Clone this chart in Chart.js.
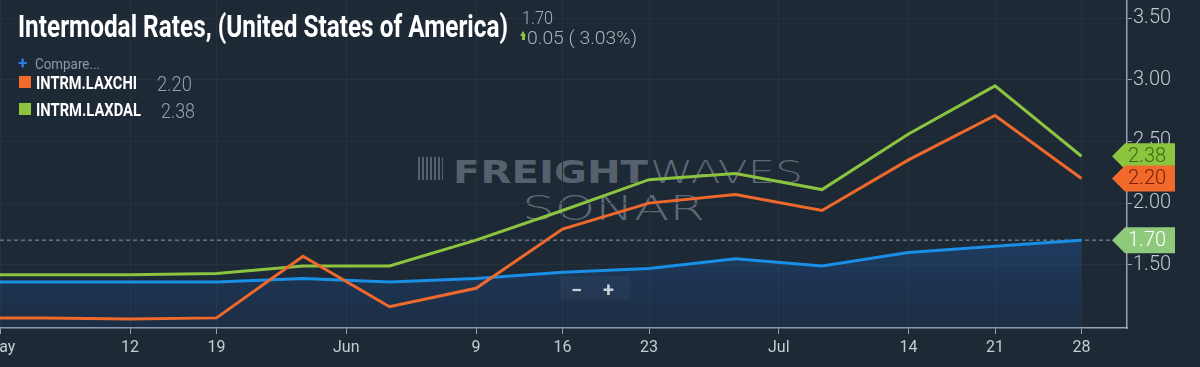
<!DOCTYPE html>
<html>
<head>
<meta charset="utf-8">
<script src="https://cdn.jsdelivr.net/npm/chart.js@4.4.1/dist/chart.umd.min.js"></script>
<style>
html, body { margin: 0; padding: 0; background: #1e2936; width: 1200px; height: 367px; overflow: hidden; font-family: Roboto, sans-serif; }
#wrap { position: absolute; left: -60px; top: -20px; width: 1260px; height: 387px; z-index: 1; }
.ov { position: absolute; white-space: nowrap; line-height: 1; transform-origin: 0 0; display: inline-block; }
.top { z-index: 2; }
.sq { position: absolute; width: 12px; height: 12px; z-index: 2; }
.wm { z-index: 0; }
</style>
</head>
<body>
<!-- watermark, behind the canvas -->
<div class="wm" style="position:absolute;left:418px;top:157px;width:25px;height:23px;background:repeating-linear-gradient(90deg,#55606c 0 2px,transparent 2px 4px);"></div>
<div class="ov wm" data-w="195" style="left:453px;top:153px;font:bold 32px 'DejaVu Sans';color:#56616d;">FREIGHT</div>
<div class="ov wm" data-w="153" style="left:650px;top:153px;font:200 32px 'DejaVu Sans';color:#5d6874;">WAVES</div>
<div class="ov wm" data-w="183" style="left:522px;top:189px;font:200 33px 'DejaVu Sans';color:#5d6874;">SONAR</div>

<div id="wrap"><canvas id="chart" width="1260" height="387"></canvas></div>

<!-- header -->
<div class="ov top" data-w="490" style="left:18px;top:8px;font:700 31px Roboto;color:#ffffff;">Intermodal Rates, (United States of America)</div>
<div class="ov top" data-w="31" style="left:522px;top:7px;font:300 18px Roboto;color:#a8b1bc;">1.70</div>
<div class="top" style="position:absolute;left:520px;top:31px;width:0;height:0;border-left:3.5px solid transparent;border-right:3.5px solid transparent;border-bottom:5px solid #8cc43f;"></div>
<div class="top" style="position:absolute;left:522px;top:35px;width:3px;height:5px;background:#8cc43f;"></div>
<div class="ov top" data-w="110" style="left:527px;top:27px;font:300 18px Roboto;color:#a8b1bc;">0.05 ( 3.03%)</div>

<!-- compare + legend -->
<div class="ov top" style="left:18px;top:53px;font:700 17px Roboto;color:#2b7de9;">+</div>
<div class="ov top" data-w="65" style="left:35px;top:56px;font:400 14px Roboto;color:#8e98a4;">Compare...</div>
<div class="sq" style="left:19px;top:76px;background:#f26a2b;"></div>
<div class="ov top" data-w="101" style="left:36px;top:72px;font:700 18px Roboto;color:#ffffff;">INTRM.LAXCHI</div>
<div class="ov top" data-w="35" style="left:157px;top:72px;font:300 20px Roboto;color:#96a0ac;">2.20</div>
<div class="sq" style="left:19px;top:103px;background:#8cc43f;"></div>
<div class="ov top" data-w="105" style="left:36px;top:99px;font:700 18px Roboto;color:#ffffff;">INTRM.LAXDAL</div>
<div class="ov top" data-w="34" style="left:161px;top:99px;font:300 20px Roboto;color:#96a0ac;">2.38</div>

<!-- zoom buttons -->
<div class="top" style="position:absolute;left:560px;top:276px;width:70px;height:24px;background:rgba(255,255,255,0.03);"></div>
<div class="top" style="position:absolute;left:595px;top:280px;width:1px;height:16px;background:#2c3845;"></div>
<div class="ov top" style="left:571px;top:278px;font:700 20px Roboto;color:#c7ced6;">−</div>
<div class="ov top" style="left:603px;top:278px;font:700 20px Roboto;color:#c7ced6;">+</div>

<script>
// weekly points, Apr 28 .. Jul 28
var weeks = ['Apr 28', 'May 5', 'May 12', 'May 19', 'May 26', 'Jun 2', 'Jun 9', 'Jun 16', 'Jun 23', 'Jun 30', 'Jul 7', 'Jul 14', 'Jul 21', 'Jul 28'];
var intermodal = [1.36, 1.36, 1.36, 1.36, 1.39, 1.36, 1.39, 1.44, 1.47, 1.55, 1.49, 1.60, 1.65, 1.70];
var laxdal = [1.42, 1.42, 1.42, 1.43, 1.49, 1.49, 1.70, 1.94, 2.19, 2.24, 2.11, 2.56, 2.95, 2.38];
var laxchi = [1.07, 1.07, 1.06, 1.07, 1.57, 1.16, 1.31, 1.79, 2.00, 2.07, 1.94, 2.35, 2.71, 2.20];

// x ticks: month labels sit half a week off the weekly points
var xTickPos = [0.5, 2, 3, 4.5, 6, 7, 8, 9.5, 11, 12, 13];
var xTickLabels = ['May', '12', '19', 'Jun', '9', '16', '23', 'Jul', '14', '21', '28'];
var yTicks = [1.5, 2.0, 2.5, 3.0, 3.5];

function pts(arr) {
	return arr.map(function (v, i) { return { x: i, y: v }; });
}

document.querySelectorAll('[data-w]').forEach(function (el) {
	var w = el.getBoundingClientRect().width;
	el.style.transform = 'scaleX(' + (+el.dataset.w / w) + ')';
});

var gridCol = '#26313d';
var axisCol = '#9aa3ad';

// dashed line at the last value of the main series
var lastLine = {
	id: 'lastLine',
	beforeDatasetsDraw: function (chart) {
		var c = chart.ctx, a = chart.chartArea;
		var y = chart.scales.y.getPixelForValue(intermodal[intermodal.length - 1]);
		c.save();
		c.strokeStyle = '#8f98a3';
		c.lineWidth = 1;
		c.setLineDash([4, 3]);
		c.beginPath();
		c.moveTo(a.left, y);
		c.lineTo(a.right, y);
		c.stroke();
		c.restore();
	}
};

// value tags on the right axis
var valueTags = {
	id: 'valueTags',
	afterDraw: function (chart) {
		var c = chart.ctx, a = chart.chartArea, ys = chart.scales.y;
		var tags = [
			{ v: intermodal[intermodal.length - 1], bg: '#8fc97c', fg: '#ffffff' },
			{ v: laxdal[laxdal.length - 1], bg: '#8cc43f', fg: '#3a6a10' },
			{ v: laxchi[laxchi.length - 1], bg: '#f26a2b', fg: '#7a2008' }
		];
		tags.forEach(function (t) {
			var y = ys.getPixelForValue(t.v);
			var tip = a.right - 15, xb = a.right - 2, xr = a.right + 48, h = 13;
			c.save();
			c.fillStyle = t.bg;
			c.beginPath();
			c.moveTo(tip, y);
			c.lineTo(xb, y - h);
			c.lineTo(xr, y - h);
			c.lineTo(xr, y + h);
			c.lineTo(xb, y + h);
			c.closePath();
			c.fill();
			c.fillStyle = t.fg;
			c.font = '300 20px Roboto';
			c.textBaseline = 'middle';
			c.textAlign = 'left';
			c.fillText(t.v.toFixed(2), xb + 3, y + 1);
			c.restore();
		});
	}
};

var ctx = document.getElementById('chart');
var config = {
	type: 'line',
	data: {
		labels: weeks,
		datasets: [{
			label: 'INTRM.LAXCHI',
			data: pts(laxchi),
			borderColor: '#f0692c',
			borderWidth: 3,
			pointRadius: 0,
			order: 1
		}, {
			label: 'INTRM.LAXDAL',
			data: pts(laxdal),
			borderColor: '#8cc43f',
			borderWidth: 3,
			pointRadius: 0,
			order: 2
		}, {
			label: 'Intermodal Rates',
			data: pts(intermodal),
			borderColor: '#1a8fe6',
			borderWidth: 3,
			pointRadius: 0,
			fill: 'origin',
			backgroundColor: function (context) {
				var chart = context.chart, a = chart.chartArea;
				if (!a) return 'rgba(26,100,190,0.2)';
				var top = chart.scales.y.getPixelForValue(1.7);
				var g = chart.ctx.createLinearGradient(0, top, 0, a.bottom);
				g.addColorStop(0, 'rgba(30,110,210,0.28)');
				g.addColorStop(1, 'rgba(25,80,160,0.14)');
				return g;
			},
			order: 3
		}]
	},
	options: {
		responsive: false,
		animation: false,
		devicePixelRatio: 1,
		layout: { padding: { left: 60, top: 20, right: 0, bottom: 0 } },
		plugins: {
			legend: { display: false },
			tooltip: { enabled: false }
		},
		scales: {
			x: {
				type: 'linear',
				min: 0.497,
				max: 13.526,
				afterBuildTicks: function (s) {
					s.ticks = xTickPos.map(function (v) { return { value: v }; });
				},
				afterFit: function (s) { s.height = 39; },
				ticks: {
					autoSkip: false,
					maxRotation: 0,
					padding: 4,
					color: '#c5ccd4',
					font: { family: 'Roboto', size: 16 },
					callback: function (v, i) { return xTickLabels[i]; }
				},
				grid: { color: gridCol, tickColor: axisCol, tickLength: 6 },
				border: { color: axisCol, width: 1.5 }
			},
			y: {
				position: 'right',
				min: 0.988,
				max: 3.646,
				afterBuildTicks: function (s) {
					s.ticks = yTicks.map(function (v) { return { value: v }; });
				},
				afterFit: function (s) { s.width = 73; },
				ticks: {
					padding: 1,
					color: '#c0c8d1',
					font: { family: 'Roboto', size: 20, weight: 300 },
					callback: function (v) { return v.toFixed(2); }
				},
				grid: { color: gridCol, tickColor: axisCol, tickLength: 5 },
				border: { color: axisCol, width: 1.5 }
			}
		}
	},
	plugins: [lastLine, valueTags]
};
var rateChart = new Chart(ctx, config);
</script>
</body>
</html>
